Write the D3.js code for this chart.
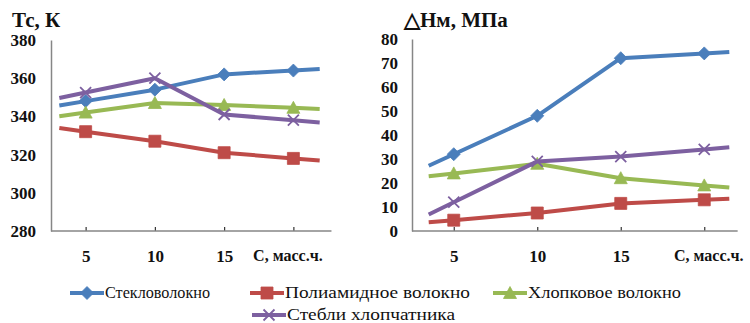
<!DOCTYPE html>
<html>
<head>
<meta charset="utf-8">
<script src="https://cdn.jsdelivr.net/npm/d3@7"></script>
<style>
  html, body { margin: 0; padding: 0; background: #fff; }
  svg { display: block; }
</style>
</head>
<body>
<svg id="chart" width="750" height="323"></svg>
<script>
// ---- data ----
const categories = [5, 10, 15, 20];
const xTickLabels = ["5", "10", "15", "С, масс.ч."];

const seriesNames = ["Стекловолокно", "Полиамидное волокно", "Хлопковое волокно", "Стебли хлопчатника"];
const seriesColors = ["#4A7EBB", "#BE4B48", "#98B954", "#7D60A0"];
const seriesMarkers = ["diamond", "square", "triangle", "cross"];

// Left panel: Tc, K
const tcTicks = [280, 300, 320, 340, 360, 380];
const tcGlass = [348, 354, 362, 364];
const tcPolyamide = [332, 327, 321, 318];
const tcCotton = [342, 347, 346, 344.5];
const tcStalks = [352.5, 360, 341, 338];

// Right panel: ΔHм, MPa
const hmTicks = [0, 10, 20, 30, 40, 50, 60, 70, 80];
const hmGlass = [32, 48, 72, 74];
const hmPolyamide = [4.5, 7.5, 11.5, 13];
const hmCotton = [24, 28, 22, 19];
const hmStalks = [12, 29, 31, 34];

const FONT = "'Liberation Serif', Tinos, 'Times New Roman', serif";
const svg = d3.select("#chart");
const axisColor = "#868686";

function markerPath(type) {
  if (type === "diamond") return "M0,-6.5L6.5,0L0,6.5L-6.5,0Z";
  if (type === "square") return "M-6,-6H6V6H-6Z";
  if (type === "triangle") return "M0,-6.5L6.5,5.5L-6.5,5.5Z";
  return "M-5.5,-5.5L5.5,5.5M5.5,-5.5L-5.5,5.5";
}

function drawMarker(g, type, color, x, y) {
  const p = g.append("path")
    .attr("d", markerPath(type))
    .attr("transform", `translate(${x},${y})`);
  if (type === "cross") {
    p.attr("fill", "none").attr("stroke", color).attr("stroke-width", 1.8);
  } else {
    p.attr("fill", color).attr("stroke", color).attr("stroke-width", 0.8);
  }
}

function panel(opts) {
  const g = svg.append("g");
  const x = d3.scalePoint().domain(categories).range(opts.xRange).padding(0.5);
  const y = d3.scaleLinear().domain(opts.yDomain).range(opts.yRange);
  const step = x.step();

  // y axis
  const yAxis = g.append("g")
    .attr("transform", `translate(${opts.xRange[0]},0)`)
    .call(d3.axisLeft(y).tickValues(opts.ticks).tickSize(0).tickPadding(opts.yPad));
  yAxis.select(".domain").attr("stroke", axisColor).attr("stroke-width", 1.5);
  yAxis.selectAll("text")
    .style("font-family", FONT)
    .style("font-weight", "bold")
    .style("font-size", "17px")
    .attr("fill", "#111");

  // x axis
  const xAxis = g.append("g")
    .attr("transform", `translate(0,${opts.yRange[0]})`)
    .call(d3.axisBottom(x).tickSizeInner(-4).tickSizeOuter(0).tickPadding(0)
      .tickFormat((d, i) => xTickLabels[i]));
  xAxis.select(".domain").remove();
  xAxis.append("line")
    .attr("x1", opts.xRange[0]).attr("x2", x(categories[categories.length - 1]) + step * opts.axisTail)
    .attr("y1", 0).attr("y2", 0)
    .attr("stroke", axisColor).attr("stroke-width", 1.5);
  xAxis.selectAll(".tick line").attr("stroke", "#333").attr("stroke-width", 1.2);
  xAxis.selectAll("text")
    .style("font-family", FONT)
    .style("font-weight", "bold")
    .style("font-size", (d, i) => i === 3 ? "16px" : "17px")
    .attr("fill", "#111")
    .attr("dx", (d, i) => i === 3 ? opts.lastLabelShift : 0)
    .attr("dy", "1.85em");

  // title
  g.append("text")
    .attr("x", opts.titleX).attr("y", 27)
    .style("font-family", FONT)
    .style("font-weight", "bold").style("font-size", "21px")
    .attr("fill", "#111")
    .text(opts.title);

  // series
  const line = d3.line();
  opts.series.forEach((vals, si) => {
    const pts = vals.map((v, i) => [x(categories[i]), y(v)]);
    const n = pts.length;
    const e = opts.ext;
    const start = [pts[0][0] - (pts[1][0] - pts[0][0]) * e, pts[0][1] - (pts[1][1] - pts[0][1]) * e];
    const end = [pts[n - 1][0] + (pts[n - 1][0] - pts[n - 2][0]) * e, pts[n - 1][1] + (pts[n - 1][1] - pts[n - 2][1]) * e];
    const all = [start, ...pts, end];
    g.append("path")
      .attr("d", line(all))
      .attr("fill", "none")
      .attr("stroke", seriesColors[si])
      .attr("stroke-width", 4)
      .attr("stroke-linejoin", "round");
    pts.forEach(p => drawMarker(g, seriesMarkers[si], seriesColors[si], p[0], p[1]));
  });
}

panel({
  xRange: [51, 328], yDomain: [280, 380], yRange: [231, 40],
  ticks: tcTicks, yPad: 15, axisTail: 0.55, ext: 0.38, lastLabelShift: -6,
  title: "Тс, К", titleX: 12,
  series: [tcGlass, tcPolyamide, tcCotton, tcStalks]
});

panel({
  xRange: [412, 746], yDomain: [0, 80], yRange: [231, 39],
  ticks: hmTicks, yPad: 14, axisTail: 0.4, ext: 0.3, lastLabelShift: 4,
  title: "△Нм, МПа", titleX: 404,
  series: [hmGlass, hmPolyamide, hmCotton, hmStalks]
});

// legend
const legendItems = [
  { x: 70, y: 293, w: 105 }, { x: 250, y: 293, w: 185 }, { x: 493, y: 293, w: 153 }, { x: 252, y: 315, w: 168 }
];
const leg = svg.append("g");
legendItems.forEach((it, i) => {
  leg.append("line")
    .attr("x1", it.x).attr("x2", it.x + 34)
    .attr("y1", it.y).attr("y2", it.y)
    .attr("stroke", seriesColors[i]).attr("stroke-width", 4);
  drawMarker(leg, seriesMarkers[i], seriesColors[i], it.x + 17, it.y);
  leg.append("text")
    .attr("x", it.x + 35).attr("y", it.y + 5)
    .attr("textLength", it.w)
    .attr("lengthAdjust", "spacingAndGlyphs")
    .style("font-family", FONT)
    .style("font-size", "16px")
    .attr("fill", "#111")
    .text(seriesNames[i]);
});
</script>
</body>
</html>
